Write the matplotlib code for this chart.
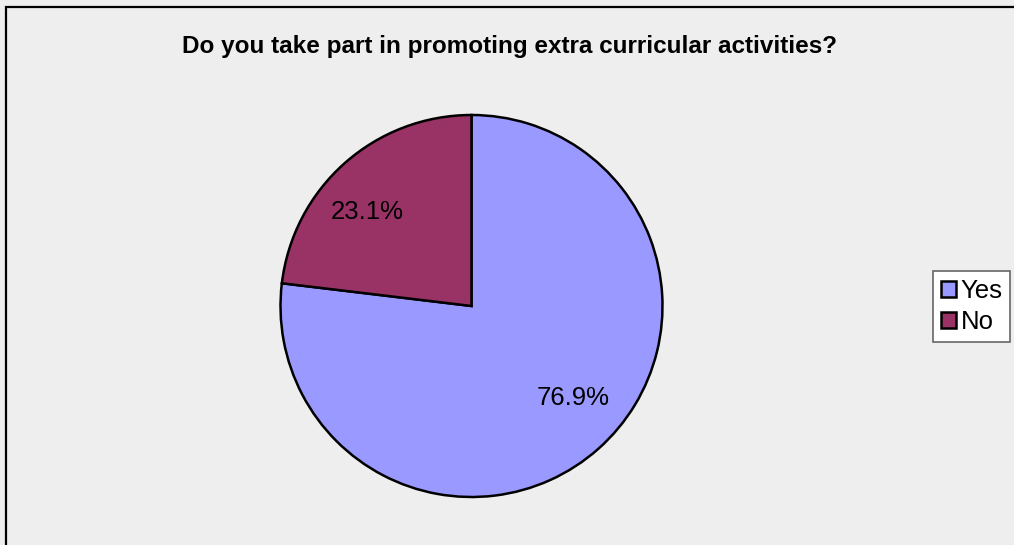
import matplotlib

matplotlib.use("Agg")
import matplotlib.pyplot as plt
from matplotlib.patches import Rectangle

# Survey responses
categories = ["Yes", "No"]
shares = [76.9, 23.1]
colors = ["#9999FF", "#993366"]
title = "Do you take part in promoting extra curricular activities?"

plt.rcParams["font.family"] = ["Liberation Sans", "DejaVu Sans"]

W, H = 1014, 545
fig = plt.figure(figsize=(W / 100, H / 100), dpi=100)
fig.patch.set_facecolor("#EEEEEE")

# outer frame (left and top edges visible)
fig.add_artist(Rectangle((6 / W, -0.1), 1.2, (H - 7) / H + 0.1,
                         transform=fig.transFigure, fill=False,
                         edgecolor="black", linewidth=1.6))

cx, cy, r = 471.5, 306, 191
ax = fig.add_axes([(cx - r) / W, (H - cy - r) / H, 2 * r / W, 2 * r / H])
ax.set_facecolor("none")
wedges, _, autotexts = ax.pie(
    shares, colors=colors, startangle=90, counterclock=False,
    autopct="%.1f%%", pctdistance=0.72, radius=1.0,
    wedgeprops=dict(edgecolor="black", linewidth=1.8),
    textprops=dict(fontsize=18.5, color="black"),
)
# percentage labels sit a little off the slice bisectors
autotexts[0].set_position((0.534, -0.484))
autotexts[1].set_position((-0.545, 0.490))
ax.set_xlim(-1, 1)
ax.set_ylim(-1, 1)
ax.set_aspect("equal")
ax.axis("off")

fig.text(509.5 / W, 1 - 46.5 / H, title, ha="center", va="center",
         fontsize=17.5, fontweight="bold", color="black")

leg = fig.legend(wedges, categories, loc="center left",
                 bbox_to_anchor=(933 / W, 1 - 306.5 / H),
                 fontsize=18.5, frameon=True, fancybox=False,
                 edgecolor="#666666", facecolor="white", framealpha=1,
                 handlelength=0.58, handleheight=0.58, handletextpad=0.2,
                 borderpad=0.3, labelspacing=0.27, borderaxespad=0)
leg.get_frame().set_linewidth(1.2)
for h in leg.legend_handles:
    h.set_linewidth(1.8)
    h.set_edgecolor("black")

fig.savefig("out.png", dpi=100, facecolor=fig.get_facecolor())
